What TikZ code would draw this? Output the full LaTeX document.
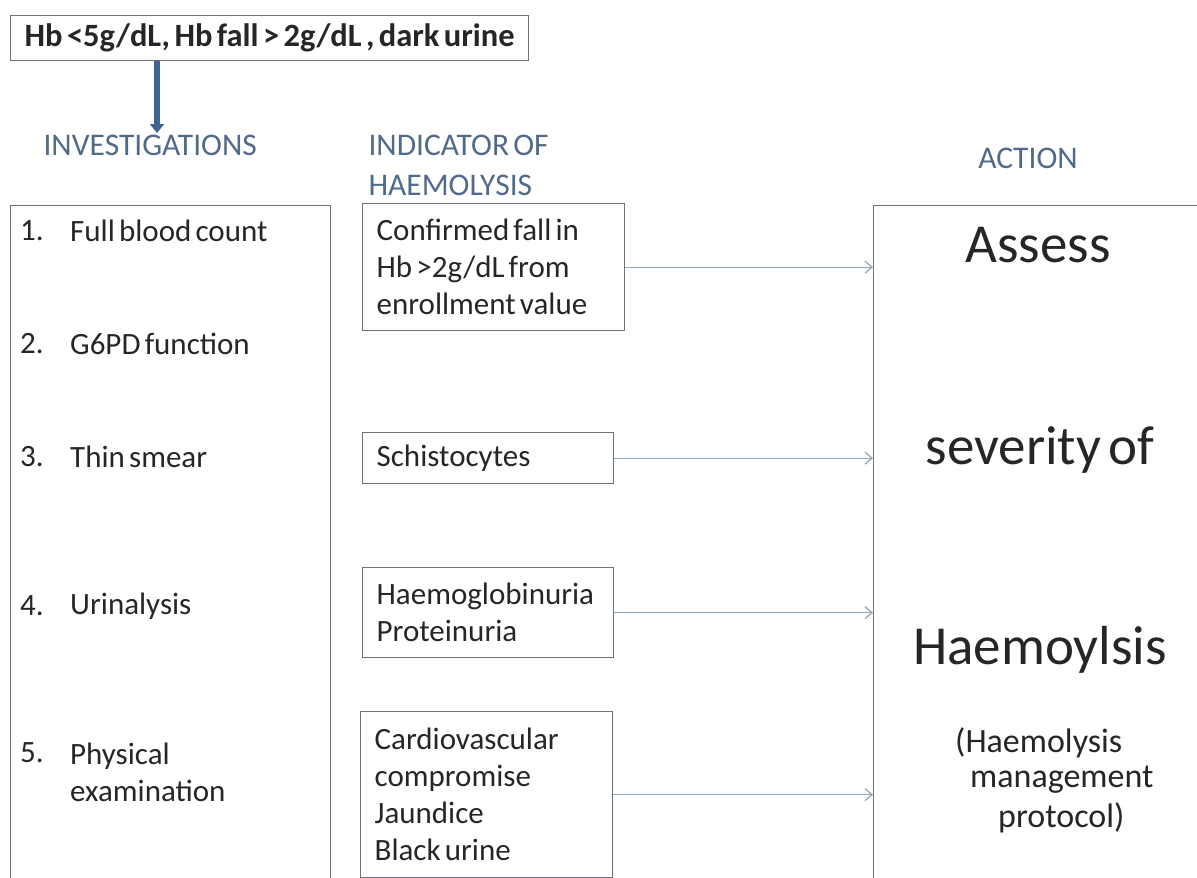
\documentclass[tikz,border=0pt]{standalone}
\usepackage{fontspec}
\setmainfont{Carlito}[WordSpace=0.6]
\usetikzlibrary{calc,arrows.meta,positioning}
\definecolor{hdrcol}{HTML}{506A8A}
\definecolor{boxgray}{HTML}{6E7175}
\definecolor{lnkblue}{HTML}{92A8BC}
\definecolor{topblue}{HTML}{41648F}
\definecolor{txtcol}{HTML}{262626}

\begin{document}
\begin{tikzpicture}[x=1pt,y=-1pt,
    box/.style={draw=boxgray,line width=1.3pt},
    body/.style={text=txtcol,font=\fontsize{31}{37}\selectfont},
    hdr/.style={text=hdrcol,font=\fontsize{31.5}{40}\selectfont,align=left},
    ind/.style={box,body,anchor=north west,inner ysep=0pt,inner xsep=14pt,align=flush left},
    lnk/.style={draw=lnkblue,line width=1.3pt,-{Straight Barb[length=7pt,width=12pt]}},
    big/.style={text=txtcol,font=\fontsize{55}{60}\selectfont},
    note/.style={text=txtcol,font=\fontsize{34}{37}\selectfont,anchor=west,inner sep=0pt}]
        \useasboundingbox (0,0) rectangle (1197,878);
        \clip (0,0) rectangle (1197,878);
        % top condition box and arrow
        \node[box,anchor=north west,minimum width=518,minimum height=45,inner sep=0pt,
              text=txtcol,font=\bfseries\fontsize{32.5}{34}\selectfont] (top) at (10,15)
              {Hb <5g/dL, Hb fall > 2g/dL , dark urine};
        \coordinate (topend) at (157,133);
        \draw[topblue,line width=6pt,-{Triangle[length=9pt,width=14pt]}] (top.south -| topend) -- (topend);
        % column headings
        \node[hdr,anchor=west] (hinv) at (40,145) {INVESTIGATIONS};
        \node[hdr,anchor=west] (hind) at (365,165) {INDICATOR OF\\HAEMOLYSIS};
        \node[hdr] (hact) at (1028,158) {ACTION};
        % big frames left and right
        \node[box,anchor=north west,minimum width=320,minimum height=720] (inv) at (10,205) {};
        \node[box,anchor=north west,minimum width=340,minimum height=720] (act) at (873,205) {};
        % investigations list
        \foreach \n/\y/\t in {1/231/Full blood count,2/344/G6PD function,3/457/Thin smear,
                              4/606/Urinalysis}{
            \node[body,anchor=west,inner sep=0pt] (num\n) at (20,\y) {\n.};
            \node[body,anchor=west,inner sep=0pt] (item\n) at (70,\y) {\t};
        }
        \node[body,anchor=west,inner sep=0pt] (num5) at (20,753) {5.};
        \node[body,anchor=north west,inner sep=0pt,align=left] (item5) at (num5.north -| item4.west)
              {Physical\\examination};
        % indicator boxes
        \node[ind,minimum width=262,minimum height=127,text width=234] (ind1) at (362,203)
              {Confirmed fall in\\Hb >2g/dL from\\enrollment value};
        \node[ind,minimum width=251,minimum height=51,text width=223] (ind2) at (362,432)
              {Schistocytes};
        \node[ind,minimum width=251,minimum height=90,text width=223] (ind3) at (362,567)
              {Haemoglobinuria\\Proteinuria};
        \node[ind,minimum width=252,minimum height=166,text width=224] (ind4) at (360,711)
              {Cardiovascular\\compromise\\Jaundice\\Black urine};
        % arrows to action
        \foreach \i in {1,...,4}
            \draw[lnk] (ind\i.east) -- (ind\i.east -| act.west);
        % action text
        \node[big] (a1) at (1038,245) {Assess};
        \node[big] (a2) at (1040,450) {severity of};
        \node[big] (a3) at (1040,650) {Haemoylsis};
        \node[note] (p1) at (955,743) {(Haemolysis};
        \node[note] (p2) at (970,780) {management};
        \node[note] (p3) at (998,818) {protocol)};
\end{tikzpicture}
\end{document}
